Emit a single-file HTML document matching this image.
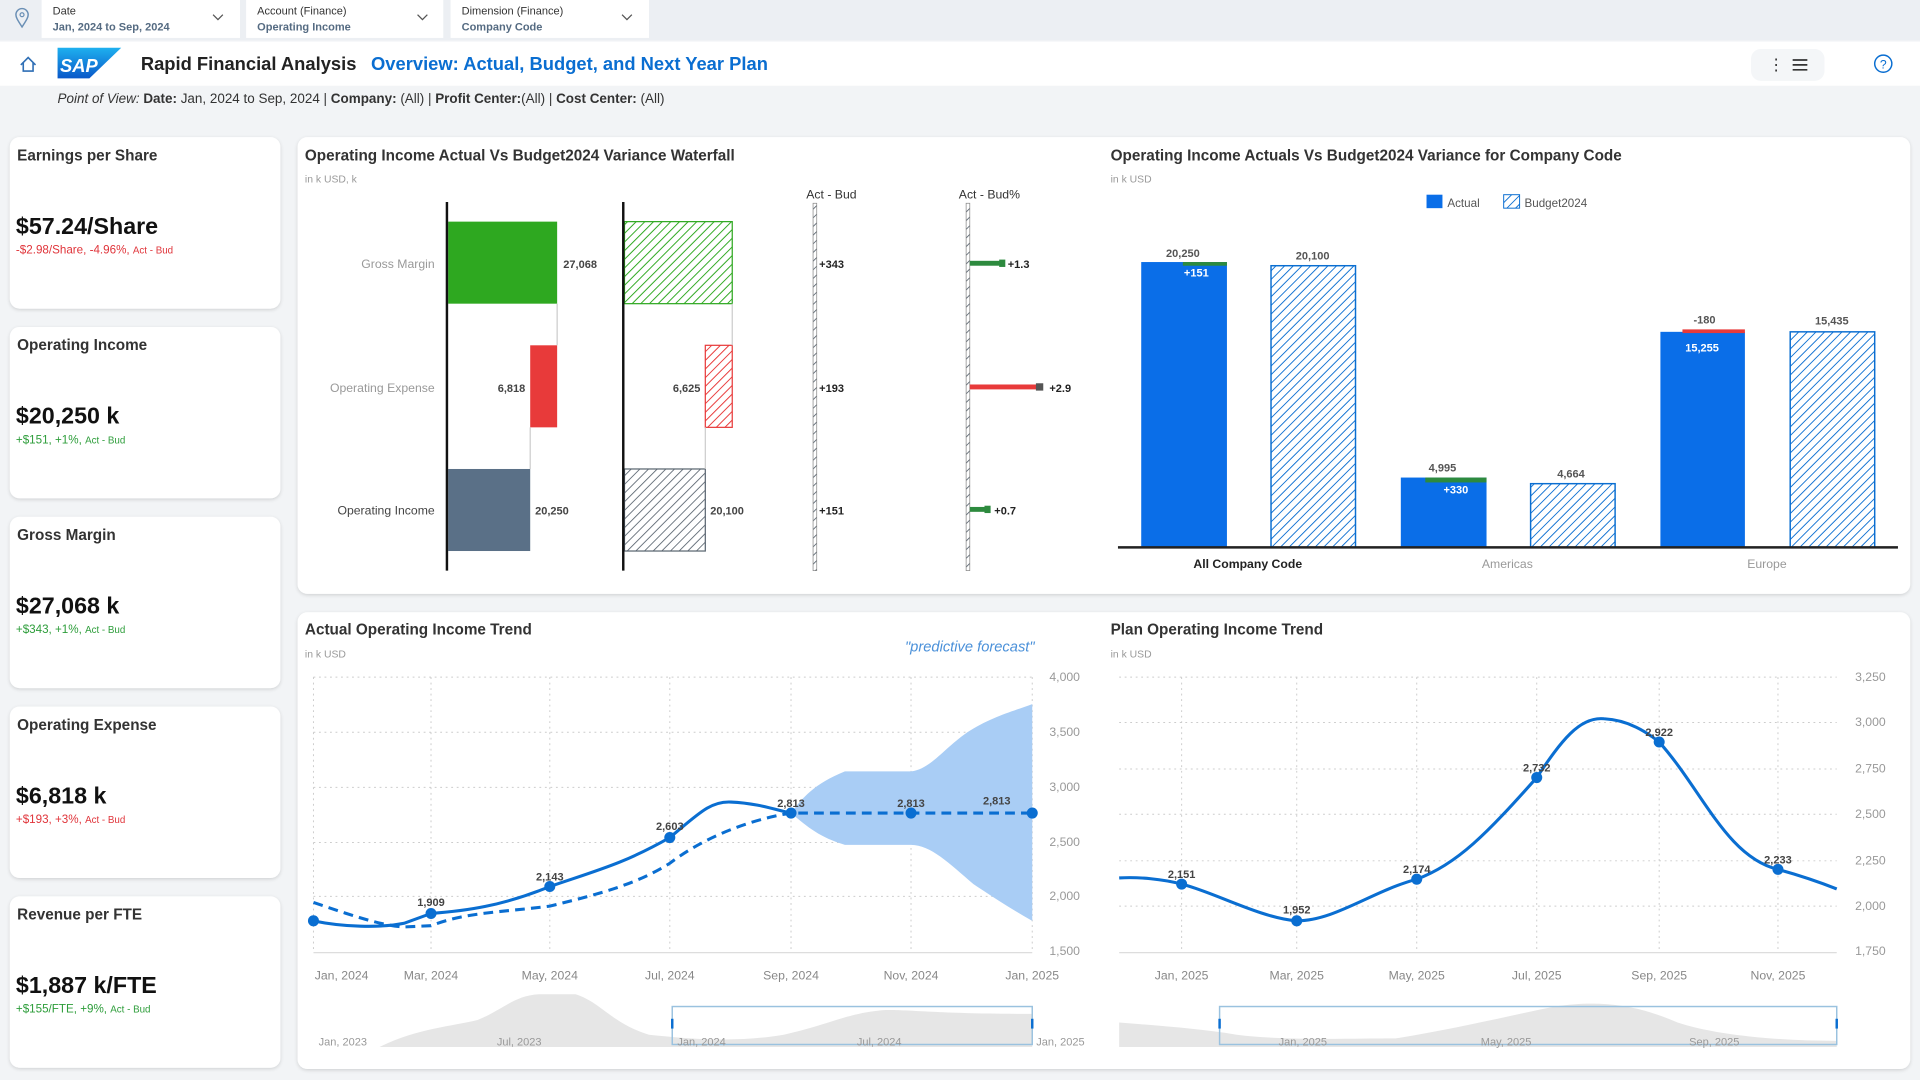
<!DOCTYPE html>
<html><head><meta charset="utf-8"><style>html,body{margin:0;padding:0;background:#f2f4f6}svg{display:block}text{font-family:"Liberation Sans",sans-serif}</style></head><body>
<svg width="1920" height="1080" viewBox="0 0 1568 882" xmlns="http://www.w3.org/2000/svg">
<defs>
<pattern id="hg" width="5" height="5" patternUnits="userSpaceOnUse" patternTransform="rotate(45)"><rect width="5" height="5" fill="#fff"/><line x1="0" y1="0" x2="0" y2="5" stroke="#2ea820" stroke-width="1.6"/></pattern>
<pattern id="hr" width="5" height="5" patternUnits="userSpaceOnUse" patternTransform="rotate(45)"><rect width="5" height="5" fill="#fff"/><line x1="0" y1="0" x2="0" y2="5" stroke="#e83a3a" stroke-width="1.6"/></pattern>
<pattern id="hs" width="5" height="5" patternUnits="userSpaceOnUse" patternTransform="rotate(45)"><rect width="5" height="5" fill="#fff"/><line x1="0" y1="0" x2="0" y2="5" stroke="#5a6570" stroke-width="1.4"/></pattern>
<pattern id="hb" width="5" height="5" patternUnits="userSpaceOnUse" patternTransform="rotate(45)"><rect width="5" height="5" fill="#fff"/><line x1="0" y1="0" x2="0" y2="5" stroke="#0a6ed1" stroke-width="1.5"/></pattern>
<filter id="sh" x="-5%" y="-5%" width="110%" height="110%"><feDropShadow dx="0" dy="1" stdDeviation="1.5" flood-color="#000" flood-opacity="0.15"/></filter>
<linearGradient id="sap" x1="0" y1="0" x2="0" y2="1"><stop offset="0" stop-color="#1eb0ef"/><stop offset="1" stop-color="#0a58c9"/></linearGradient>
</defs>
<rect width="1568" height="882" fill="#f2f4f6"/>
<!-- top bar -->
<rect width="1568" height="33" fill="#eceff3"/>
<path d="M18,22 C14,16 13,14 13,12 A5,5 0 0 1 23,12 C23,14 22,16 18,22Z" fill="none" stroke="#6a8fb5" stroke-width="1.2"/><circle cx="18" cy="12" r="1.6" fill="none" stroke="#6a8fb5"/>
<g font-size="9" fill="#333">
<rect x="34" y="0" width="162" height="31" fill="#fff"/><text x="43" y="12">Date</text><text x="43" y="25" fill="#556b82" font-weight="bold">Jan, 2024 to Sep, 2024</text><path d="M174,12 l4,4 l4,-4" fill="none" stroke="#555"/>
<rect x="201" y="0" width="161" height="31" fill="#fff"/><text x="210" y="12">Account (Finance)</text><text x="210" y="25" fill="#556b82" font-weight="bold">Operating Income</text><path d="M341,12 l4,4 l4,-4" fill="none" stroke="#555"/>
<rect x="368" y="0" width="162" height="31" fill="#fff"/><text x="377" y="12">Dimension (Finance)</text><text x="377" y="25" fill="#556b82" font-weight="bold">Company Code</text><path d="M508,12 l4,4 l4,-4" fill="none" stroke="#555"/>
</g>
<rect x="0" y="34" width="1568" height="36" fill="#fff"/>
<path d="M17,53 l6,-6 l6,6 M19,51 v7 h8 v-7" fill="none" stroke="#2f6fb5" stroke-width="1.3"/>
<path d="M47,39 H99 L73,64 H47Z" fill="url(#sap)"/>
<text x="49" y="59" font-size="15" font-weight="bold" fill="#fff" font-style="italic">SAP</text>
<text x="115" y="57" font-size="15" font-weight="bold" fill="#222">Rapid Financial Analysis</text>
<text x="303" y="57" font-size="15" font-weight="bold" fill="#0a6ed1">Overview: Actual, Budget, and Next Year Plan</text>
<rect x="1430" y="40" width="60" height="26" rx="8" fill="#f4f6f8"/>
<text x="1444" y="57" font-size="13" fill="#333">⋮</text>
<path d="M1464,49 h12 M1464,53 h12 M1464,57 h12" stroke="#333" stroke-width="1.4"/>
<circle cx="1538" cy="52" r="7" fill="none" stroke="#0a6ed1" stroke-width="1.2"/><text x="1538" y="56" font-size="10" fill="#0a6ed1" text-anchor="middle">?</text>
<text x="47" y="84" font-size="11" fill="#333"><tspan font-style="italic">Point of View: </tspan><tspan font-weight="bold">Date:</tspan> Jan, 2024 to Sep, 2024 | <tspan font-weight="bold">Company:</tspan> (All) | <tspan font-weight="bold">Profit Center:</tspan>(All) | <tspan font-weight="bold">Cost Center:</tspan> (All)</text>

<!-- KPI cards -->
<g filter="url(#sh)" fill="#fff">
<rect x="8" y="112" width="221" height="140" rx="8"/><rect x="8" y="267" width="221" height="140" rx="8"/><rect x="8" y="422" width="221" height="140" rx="8"/><rect x="8" y="577" width="221" height="140" rx="8"/><rect x="8" y="732" width="221" height="140" rx="8"/>
<rect x="243" y="112" width="1317" height="373" rx="8"/><rect x="243" y="500" width="1317" height="373" rx="8"/>
</g>
<g font-size="12.5" font-weight="bold" fill="#333">
<text x="14" y="131">Earnings per Share</text><text x="14" y="286">Operating Income</text><text x="14" y="441">Gross Margin</text><text x="14" y="596">Operating Expense</text><text x="14" y="751">Revenue per FTE</text>
</g>
<g font-size="19" font-weight="bold" fill="#111">
<text x="13" y="191">$57.24/Share</text><text x="13" y="346">$20,250 k</text><text x="13" y="501">$27,068 k</text><text x="13" y="656">$6,818 k</text><text x="13" y="811">$1,887 k/FTE</text>
</g>
<g font-size="9.5">
<text x="13" y="207" fill="#e0343a">-$2.98/Share, -4.96%, <tspan font-size="8">Act - Bud</tspan></text>
<text x="13" y="362" fill="#2d9d3a">+$151, +1%, <tspan font-size="8">Act - Bud</tspan></text>
<text x="13" y="517" fill="#2d9d3a">+$343, +1%, <tspan font-size="8">Act - Bud</tspan></text>
<text x="13" y="672" fill="#e0343a">+$193, +3%, <tspan font-size="8">Act - Bud</tspan></text>
<text x="13" y="827" fill="#2d9d3a">+$155/FTE, +9%, <tspan font-size="8">Act - Bud</tspan></text>
</g>

<!-- Waterfall -->
<text x="249" y="131" font-size="12.5" font-weight="bold" fill="#333">Operating Income Actual Vs Budget2024 Variance Waterfall</text>
<text x="249" y="149" font-size="8.5" fill="#999">in k USD, k</text>
<g font-size="10" text-anchor="end" fill="#999"><text x="355" y="219">Gross Margin</text><text x="355" y="320">Operating Expense</text><text x="355" y="420" fill="#444">Operating Income</text></g>
<rect x="366" y="181" width="89" height="67" fill="#2ea820"/>
<rect x="433" y="282" width="22" height="67" fill="#e83a3a"/>
<rect x="366" y="383" width="67" height="67" fill="#5a7087"/>
<line x1="455" y1="248" x2="455" y2="282" stroke="#ccc"/><line x1="433" y1="349" x2="433" y2="383" stroke="#ccc"/>
<line x1="365" y1="165" x2="365" y2="466" stroke="#111" stroke-width="2"/>
<rect x="510" y="181" width="88" height="67" fill="url(#hg)" stroke="#2ea820"/>
<rect x="576" y="282" width="22" height="67" fill="url(#hr)" stroke="#e83a3a"/>
<rect x="510" y="383" width="66" height="67" fill="url(#hs)" stroke="#5a6570"/>
<line x1="598" y1="248" x2="598" y2="282" stroke="#ccc"/><line x1="576" y1="349" x2="576" y2="383" stroke="#ccc"/>
<line x1="509" y1="165" x2="509" y2="466" stroke="#111" stroke-width="2"/>
<g font-size="9" font-weight="bold" fill="#444">
<text x="460" y="219">27,068</text><text x="429" y="320" text-anchor="end">6,818</text><text x="437" y="420">20,250</text>
<text x="572" y="320" text-anchor="end">6,625</text><text x="580" y="420">20,100</text>
<text x="669" y="219" fill="#222">+343</text><text x="669" y="320" fill="#222">+193</text><text x="669" y="420" fill="#222">+151</text>
<text x="823" y="219" fill="#222">+1.3</text><text x="857" y="320" fill="#222">+2.9</text><text x="812" y="420" fill="#222">+0.7</text>
</g>
<g font-size="10" fill="#333" text-anchor="middle"><text x="679" y="162">Act - Bud</text><text x="808" y="162">Act - Bud%</text></g>
<rect x="664" y="166" width="3" height="300" fill="url(#hs)" stroke="#888" stroke-width="0.6"/>
<rect x="789" y="166" width="3" height="300" fill="url(#hs)" stroke="#888" stroke-width="0.6"/>
<rect x="792" y="213" width="28" height="4" fill="#2d8a3e"/><rect x="816" y="212" width="5" height="6" fill="#2d8a3e"/>
<rect x="792" y="314" width="58" height="4" fill="#e83a3a"/><rect x="846" y="313" width="6" height="6" fill="#555"/>
<rect x="792" y="414" width="16" height="4" fill="#2d8a3e"/><rect x="804" y="413" width="5" height="6" fill="#2d8a3e"/>

<!-- Company code bar chart -->
<text x="907" y="131" font-size="12.5" font-weight="bold" fill="#333">Operating Income Actuals Vs Budget2024 Variance for Company Code</text>
<text x="907" y="149" font-size="8.5" fill="#999">in k USD</text>
<rect x="1165" y="159" width="13" height="11" fill="#0a6ee8"/><text x="1182" y="169" font-size="9.5" fill="#555">Actual</text>
<rect x="1228" y="159" width="13" height="11" fill="url(#hb)" stroke="#0a6ed1" stroke-width="0.8"/><text x="1245" y="169" font-size="9.5" fill="#555">Budget2024</text>
<rect x="932" y="214" width="70" height="233" fill="#0a6ee8"/><rect x="966" y="214" width="36" height="3" fill="#2d8a3e"/>
<rect x="1038" y="217" width="69" height="230" fill="url(#hb)" stroke="#0a6ed1" stroke-width="1.2"/>
<rect x="1144" y="390" width="70" height="57" fill="#0a6ee8"/><rect x="1164" y="390" width="50" height="4" fill="#2d8a3e"/>
<rect x="1250" y="395" width="69" height="52" fill="url(#hb)" stroke="#0a6ed1" stroke-width="1.2"/>
<rect x="1356" y="271" width="69" height="176" fill="#0a6ee8"/><rect x="1374" y="269" width="51" height="3" fill="#e83a3a"/>
<rect x="1462" y="271" width="69" height="176" fill="url(#hb)" stroke="#0a6ed1" stroke-width="1.2"/>
<line x1="913" y1="447" x2="1550" y2="447" stroke="#222" stroke-width="2"/>
<g font-size="9" font-weight="bold" fill="#555" text-anchor="middle">
<text x="966" y="210">20,250</text><text x="1072" y="212">20,100</text><text x="1178" y="385">4,995</text><text x="1283" y="390">4,664</text><text x="1392" y="264">-180</text><text x="1496" y="265">15,435</text>
<text x="977" y="226" fill="#fff">+151</text><text x="1189" y="403" fill="#fff">+330</text><text x="1390" y="287" fill="#fff">15,255</text>
</g>
<text x="1019" y="464" font-size="10" font-weight="bold" fill="#222" text-anchor="middle">All Company Code</text>
<text x="1231" y="464" font-size="10" fill="#999" text-anchor="middle">Americas</text>
<text x="1443" y="464" font-size="10" fill="#999" text-anchor="middle">Europe</text>

<!-- Actual trend -->
<text x="249" y="518" font-size="12.5" font-weight="bold" fill="#333">Actual Operating Income Trend</text>
<text x="249" y="537" font-size="8.5" fill="#999">in k USD</text>
<text x="792" y="532" font-size="12" font-style="italic" fill="#4a90d9" text-anchor="middle">"predictive forecast"</text>
<g stroke="#ccc" stroke-dasharray="1.5,3" stroke-width="0.8">
<line x1="256" y1="553" x2="843" y2="553"/><line x1="256" y1="598" x2="843" y2="598"/><line x1="256" y1="643" x2="843" y2="643"/><line x1="256" y1="688" x2="843" y2="688"/><line x1="256" y1="732" x2="843" y2="732"/>
<line x1="256" y1="553" x2="256" y2="777"/><line x1="352" y1="553" x2="352" y2="777"/><line x1="449" y1="553" x2="449" y2="777"/><line x1="547" y1="553" x2="547" y2="777"/><line x1="646" y1="553" x2="646" y2="777"/><line x1="744" y1="553" x2="744" y2="777"/><line x1="843" y1="553" x2="843" y2="777"/>
</g>
<line x1="256" y1="778" x2="843" y2="778" stroke="#ddd"/>
<path d="M646,664 C655,652 665,640 690,630 L744,630 C760,628 770,612 790,598 C810,585 830,580 843,575 L843,752 C825,742 810,732 795,722 C775,705 760,690 744,690 L690,690 C670,684 660,676 646,664Z" fill="#a9cdf5"/>
<path d="M256,752 C280,757 310,758 330,754 L352,746 C380,744 410,740 449,724 C490,710 510,705 547,684 C570,665 580,654 597,655 C620,656 635,662 646,664" fill="none" stroke="#0a6ed1" stroke-width="2.5"/>
<path d="M256,737 C280,745 310,756 330,757 L352,756 C380,745 410,745 449,740 C490,730 520,722 547,705 C580,680 620,668 646,664 C660,664 670,664 690,664 L843,664" fill="none" stroke="#0a6ed1" stroke-width="2.5" stroke-dasharray="8,5"/>
<g fill="#0a6ed1"><circle cx="256" cy="752" r="4.5"/><circle cx="352" cy="746" r="4.5"/><circle cx="449" cy="724" r="4.5"/><circle cx="547" cy="684" r="4.5"/><circle cx="646" cy="664" r="4.5"/><circle cx="744" cy="664" r="4.5"/><circle cx="843" cy="664" r="4.5"/></g>
<g font-size="9" font-weight="bold" fill="#444" text-anchor="middle"><text x="352" y="740">1,909</text><text x="449" y="719">2,143</text><text x="547" y="678">2,603</text><text x="646" y="659">2,813</text><text x="744" y="659">2,813</text><text x="814" y="657">2,813</text></g>
<g font-size="10" fill="#999" text-anchor="end"><text x="882" y="556">4,000</text><text x="882" y="601">3,500</text><text x="882" y="646">3,000</text><text x="882" y="691">2,500</text><text x="882" y="735">2,000</text><text x="882" y="780">1,500</text></g>
<g font-size="10" fill="#888" text-anchor="middle"><text x="279" y="800">Jan, 2024</text><text x="352" y="800">Mar, 2024</text><text x="449" y="800">May, 2024</text><text x="547" y="800">Jul, 2024</text><text x="646" y="800">Sep, 2024</text><text x="744" y="800">Nov, 2024</text><text x="843" y="800">Jan, 2025</text></g>
<path d="M256,855 L310,855 C340,840 370,838 390,833 C410,825 420,813 440,812 L470,812 C490,818 500,836 530,845 C560,848 600,852 640,845 C680,836 690,828 720,825 C740,824 760,828 843,828 L843,855Z" fill="#e6e6e6"/>
<rect x="549" y="822" width="294" height="31" fill="none" stroke="#9ac2df" stroke-width="1.2"/>
<rect x="548" y="832" width="2" height="8" fill="#0a6ed1"/><rect x="842" y="832" width="2" height="8" fill="#0a6ed1"/>
<g font-size="9" fill="#999" text-anchor="middle"><text x="280" y="854">Jan, 2023</text><text x="424" y="854">Jul, 2023</text><text x="573" y="854">Jan, 2024</text><text x="718" y="854">Jul, 2024</text><text x="866" y="854">Jan, 2025</text></g>

<!-- Plan trend -->
<text x="907" y="518" font-size="12.5" font-weight="bold" fill="#333">Plan Operating Income  Trend</text>
<text x="907" y="537" font-size="8.5" fill="#999">in k USD</text>
<g stroke="#ccc" stroke-dasharray="1.5,3" stroke-width="0.8">
<line x1="914" y1="553" x2="1500" y2="553"/><line x1="914" y1="590" x2="1500" y2="590"/><line x1="914" y1="628" x2="1500" y2="628"/><line x1="914" y1="665" x2="1500" y2="665"/><line x1="914" y1="703" x2="1500" y2="703"/><line x1="914" y1="740" x2="1500" y2="740"/>
<line x1="965" y1="553" x2="965" y2="777"/><line x1="1059" y1="553" x2="1059" y2="777"/><line x1="1157" y1="553" x2="1157" y2="777"/><line x1="1255" y1="553" x2="1255" y2="777"/><line x1="1355" y1="553" x2="1355" y2="777"/><line x1="1452" y1="553" x2="1452" y2="777"/>
</g>
<line x1="914" y1="778" x2="1500" y2="778" stroke="#ddd"/>
<path d="M914,717 C930,716 950,718 965,722 C990,728 1030,750 1059,752 C1090,752 1120,728 1157,718 C1190,706 1215,680 1255,635 C1275,605 1290,585 1310,587 C1330,588 1345,598 1355,606 C1390,645 1410,700 1452,710 C1470,715 1485,720 1500,726" fill="none" stroke="#0a6ed1" stroke-width="2.5"/>
<g fill="#0a6ed1"><circle cx="965" cy="722" r="4.5"/><circle cx="1059" cy="752" r="4.5"/><circle cx="1157" cy="718" r="4.5"/><circle cx="1255" cy="635" r="4.5"/><circle cx="1355" cy="606" r="4.5"/><circle cx="1452" cy="710" r="4.5"/></g>
<g font-size="9" font-weight="bold" fill="#444" text-anchor="middle"><text x="965" y="717">2,151</text><text x="1059" y="746">1,952</text><text x="1157" y="713">2,174</text><text x="1255" y="630">2,732</text><text x="1355" y="601">2,922</text><text x="1452" y="705">2,233</text></g>
<g font-size="10" fill="#999" text-anchor="end"><text x="1540" y="556">3,250</text><text x="1540" y="593">3,000</text><text x="1540" y="631">2,750</text><text x="1540" y="668">2,500</text><text x="1540" y="706">2,250</text><text x="1540" y="743">2,000</text><text x="1540" y="780">1,750</text></g>
<g font-size="10" fill="#888" text-anchor="middle"><text x="965" y="800">Jan, 2025</text><text x="1059" y="800">Mar, 2025</text><text x="1157" y="800">May, 2025</text><text x="1255" y="800">Jul, 2025</text><text x="1355" y="800">Sep, 2025</text><text x="1452" y="800">Nov, 2025</text></g>
<path d="M914,855 L914,835 C950,838 980,840 1010,845 C1050,850 1100,848 1140,848 C1190,840 1230,830 1270,822 C1310,816 1340,822 1370,835 C1400,845 1450,850 1500,850 L1500,855Z" fill="#e6e6e6"/>
<rect x="996" y="822" width="504" height="31" fill="none" stroke="#9ac2df" stroke-width="1.2"/>
<rect x="995" y="832" width="2" height="8" fill="#0a6ed1"/><rect x="1499" y="832" width="2" height="8" fill="#0a6ed1"/>
<g font-size="9" fill="#999" text-anchor="middle"><text x="1064" y="854">Jan, 2025</text><text x="1230" y="854">May, 2025</text><text x="1400" y="854">Sep, 2025</text></g>
</svg>
</body></html>
